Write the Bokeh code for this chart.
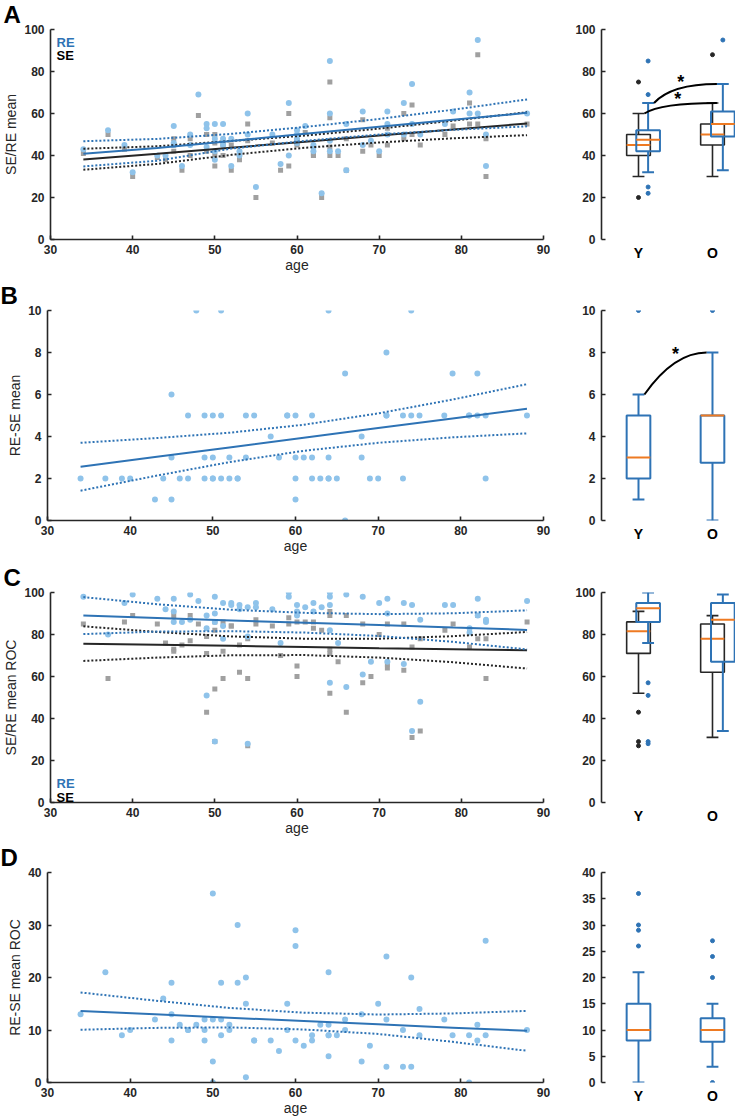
from bokeh.plotting import figure
from bokeh.layouts import column, row
from bokeh.models import Range1d, FixedTicker, Label, Title
from bokeh.embed import file_html
from bokeh.resources import INLINE
from bokeh.core.properties import value

FONT = "Liberation Sans"
DARK = "#262626"
BLUE = "#2E73B5"
LBLUE = "#8FC3EA"
GRAY = "#A0A0A0"
ORANGE = "#EE7A22"

# ---------------- data: panels A/B (SE/RE mean) ----------------
ages_AB = [34, 37, 39, 40, 43, 44, 45, 45, 45, 46, 47, 47, 48, 49, 49, 49, 50, 50, 50, 50,
           51, 51, 51, 52, 52, 53, 53, 54, 54, 55, 57, 58, 59, 59, 60, 60, 60, 60, 61, 62,
           62, 62, 63, 64, 64, 64, 64, 65, 66, 66, 68, 68, 69, 70, 71, 71, 71, 73, 73, 74,
           74, 75, 78, 79, 81, 81, 82, 82, 83, 83, 88]
re_mean = [43, 52, 45, 32, 40, 40, 54, 46, 45, 35, 50, 45, 69, 55, 53, 44, 55, 48, 42, 38,
           55, 48, 45, 48, 35, 42, 40, 60, 50, 25, 50, 36, 65, 40, 52, 50, 48, 46, 54, 45,
           42, 44, 22, 85, 60, 47, 42, 42, 55, 33, 61, 45, 47, 42, 61, 55, 50, 65, 50, 74,
           55, 50, 55, 61, 70, 60, 95, 60, 50, 35, 60]
re_se_mean = [2, 2, 2, 2, 1, 2, 6, 1, 3, 2, 2, 5, 10, 5, 3, 2, 5, 2, 2, 3,
              10, 2, 5, 3, 2, 2, 2, 5, 3, 5, 4, 3, 5, 5, 5, 3, 2, 1, 3, 5,
              2, 3, 2, 10, 2, 3, 2, 2, 7, 0, 4, 3, 2, 2, 8, 5, 5, 5, 2, 10,
              5, 5, 5, 7, 5, 5, 7, 5, 2, 5, 5]
se_mean = [r - d for r, d in zip(re_mean, re_se_mean)]

# ---------------- data: panels C/D (SE/RE mean ROC) ----------------
ages_CD = [34, 37, 39, 40, 43, 44, 45, 45, 45, 46, 47, 47, 48, 49, 49, 49, 50, 50, 50, 50,
           51, 51, 51, 52, 52, 53, 53, 54, 54, 54, 55, 55, 57, 58, 59, 59, 60, 60, 60, 61,
           62, 62, 63, 64, 64, 64, 64, 64, 65, 66, 66, 68, 68, 69, 70, 71, 71, 71, 73, 73,
           74, 74, 75, 75, 78, 79, 81, 81, 82, 82, 83, 83, 88]
re_roc = [98, 80, 95, 99, 97, 92, 97, 91, 86, 86, 99, 87, 96, 89, 83, 51, 98, 90, 86, 29,
          95, 78, 84, 95, 94, 94, 92, 93, 79, 28, 95, 93, 92, 76, 100, 98, 94, 91, 89, 93,
          95, 91, 93, 100, 98, 94, 82, 57, 76, 99, 55, 98, 61, 67, 95, 97, 90, 67, 95, 66,
          94, 34, 87, 48, 94, 94, 83, 81, 97, 89, 87, 86, 96]
re_se_roc = [13, 21, 9, 10, 12, 16, 8, 19, 13, 11, 10, 10, 11, 10, 12, 8, 12, 36, 4, 0,
             9, 19, 12, 11, 10, 19, 30, 15, 20, 1, 8, 8, 8, 6, 15, 10, 8, 26, 29, 7,
             9, 8, 11, 9, 9, 21, 11, 5, 9, 10, 12, 13, 4, 7, 15, 12, 24, 3, 10, 3,
             20, 3, 9, 14, 12, 9, 9, 0, 8, 11, 9, 27, 10]
se_roc = [r - d for r, d in zip(re_roc, re_se_roc)]

fit_ages = [34, 43, 52, 61, 70, 79, 88]
A_re_fit = [40.8, 43.6, 46.9, 50.3, 53.7, 57.0, 60.3]
A_re_hi = [46.8, 47.9, 50.3, 53.6, 57.4, 61.8, 66.7]
A_re_lo = [34.8, 37.5, 43.3, 47.0, 50.0, 52.2, 53.9]
A_se_fit = [38.1, 40.8, 43.7, 46.6, 49.5, 52.4, 55.2]
A_se_hi = [43.2, 44.4, 46.9, 49.5, 52.8, 56.6, 60.6]
A_se_lo = [33.2, 36.0, 40.3, 43.7, 46.2, 48.2, 49.7]
B_fit = [2.56, 3.02, 3.48, 3.94, 4.40, 4.86, 5.32]
B_hi = [3.70, 3.92, 4.18, 4.56, 5.10, 5.76, 6.49]
B_lo = [1.42, 2.12, 2.78, 3.32, 3.70, 3.96, 4.15]
C_re_fit = [89.0, 87.9, 86.7, 85.6, 84.5, 83.3, 82.2]
C_re_hi = [97.8, 94.4, 91.8, 90.3, 89.7, 90.1, 91.5]
C_re_lo = [80.2, 81.4, 81.6, 80.9, 79.3, 76.5, 72.9]
C_se_fit = [75.6, 75.1, 74.6, 74.1, 73.5, 73.0, 72.5]
C_se_hi = [83.9, 81.2, 79.1, 78.0, 78.0, 79.2, 81.2]
C_se_lo = [67.4, 69.0, 70.1, 70.2, 69.0, 66.8, 63.8]
D_fit = [13.6, 13.0, 12.35, 11.7, 11.1, 10.45, 9.84]
D_hi = [17.15, 15.6, 14.2, 13.3, 12.95, 13.15, 13.64]
D_lo = [10.05, 10.4, 10.5, 10.1, 9.25, 7.75, 6.04]

# ---------------- box plot summaries (Y = young, O = old) ----------------
groups = ["Y", "O"]
pos_single = [1.0, 2.0]
pos_blue = [1.13, 2.14]
A_se_box = dict(lo=[30, 30], q1=[40, 45], med=[45, 50], q3=[50, 55], hi=[60, 65])
A_se_out = ([1, 1, 2], [75, 20, 88])
A_re_box = dict(lo=[32, 33], q1=[42, 49], med=[47.5, 55], q3=[52, 61], hi=[65, 74])
A_re_out = ([1, 1, 1, 1, 2], [85, 69, 25, 22, 95])
B_box = dict(lo=[1, 0], q1=[2, 2.75], med=[3, 5], q3=[5, 5], hi=[6, 8])
B_out = ([1, 2], [10, 10])
C_se_box = dict(lo=[52, 31], q1=[71, 62], med=[81.5, 78], q3=[86, 85], hi=[91, 89])
C_se_out = ([1, 1, 1], [43, 29, 27])
C_re_box = dict(lo=[76, 34], q1=[86, 67], med=[92.5, 87], q3=[95, 95], hi=[100, 99])
C_re_out = ([1, 1, 1, 1], [57, 51, 29, 28])
D_box = dict(lo=[0, 3], q1=[8, 7.75], med=[10, 10], q3=[15, 12.25], hi=[21, 15])
D_out = ([1, 1, 1, 1, 2, 2, 2, 2], [26, 29, 30, 36, 0, 20, 24, 27])

# significance brackets: (x0, y0, x1, y1, cx, cy) and star positions
A_brackets = [(1.08, 60, 2.06, 65, 1.30, 65), (1.21, 65, 2.06, 74, 1.45, 74)]
A_stars = [(1.53, 66.7), (1.57, 74.9)]
B_brackets = [(1.08, 6, 1.92, 8, 1.48, 8)]
B_stars = [(1.50, 7.93)]

age_ticks = [30, 40, 50, 60, 70, 80, 90]


def base_fig(width, height, xr, yr, top, bottom, left, right):
    p = figure(width=width, height=height, x_range=Range1d(*xr), y_range=Range1d(*yr),
               output_backend="svg", toolbar_location=None,
               min_border_left=left, min_border_right=right,
               min_border_top=top, min_border_bottom=bottom)
    p.grid.visible = False
    p.outline_line_color = None
    p.background_fill_color = "white"
    p.border_fill_color = "white"
    for ax in (p.xaxis[0], p.yaxis[0]):
        ax.axis_line_color = DARK
        ax.axis_line_width = 1.6
        ax.major_tick_line_color = DARK
        ax.major_tick_line_width = 1.6
        ax.major_tick_in = 4
        ax.major_tick_out = 0
        ax.minor_tick_line_color = None
        ax.major_label_text_font = FONT
        ax.major_label_text_font_style = "bold"
        ax.major_label_text_font_size = "12px"
        ax.major_label_text_color = DARK
        ax.axis_label_text_font = FONT
        ax.axis_label_text_font_style = "normal"
        ax.axis_label_text_font_size = "14px"
        ax.axis_label_text_color = DARK
    return p


def scatter_panel(height, top, bottom, yr, yticks, ylab, letter):
    p = base_fig(560, height, (30, 90), yr, top, bottom, 47, 17)
    p.title = Title(text=letter, align="left", offset=-47, standoff=0,
                    vertical_align="top", text_font=FONT, text_font_style="bold",
                    text_font_size="24px", text_color="black")
    p.xaxis.ticker = FixedTicker(ticks=age_ticks)
    p.yaxis.ticker = FixedTicker(ticks=yticks)
    p.xaxis.axis_label = "age"
    p.yaxis.axis_label = ylab
    p.xaxis.major_label_standoff = 5
    p.xaxis.axis_label_standoff = 0
    p.yaxis.major_label_standoff = 6
    p.yaxis.axis_label_standoff = 2
    return p


def box_panel(height, top, bottom, yr, yticks):
    p = base_fig(175, height, (0.5, 2.311), yr, top, bottom, 41, 0)
    p.yaxis.ticker = FixedTicker(ticks=yticks)
    p.yaxis.major_label_standoff = 6
    p.xaxis.ticker = FixedTicker(ticks=pos_single)
    p.xaxis.major_label_overrides = {1: groups[0], 2: groups[1]}
    p.xaxis.axis_line_color = None
    p.xaxis.major_tick_line_color = None
    p.xaxis.major_label_text_font_size = "14px"
    p.xaxis.major_label_text_color = "black"
    p.xaxis.major_label_standoff = 5
    return p


def rse_labels(p, y, off_re, off_se):
    p.add_layout(Label(x=30, y=y, x_offset=6, y_offset=off_re, text="RE",
                       text_font=FONT, text_font_style="bold", text_font_size="13px",
                       text_color=BLUE, text_baseline="alphabetic"))
    p.add_layout(Label(x=30, y=y, x_offset=6, y_offset=off_se, text="SE",
                       text_font=FONT, text_font_style="bold", text_font_size="13px",
                       text_color="black", text_baseline="alphabetic"))


def fit_lines(p, fit, lo, hi, color):
    p.line(fit_ages, hi, line_color=color, line_width=2, line_dash="2 2")
    p.line(fit_ages, lo, line_color=color, line_width=2, line_dash="2 2")
    p.line(fit_ages, fit, line_color=color, line_width=2)


def draw_boxes(p, pos, b, out, color, lw, bw=0.32, cw=0.16):
    p.segment(x0=pos, y0=b["lo"], x1=pos, y1=b["q1"], line_color=color, line_width=lw)
    p.segment(x0=pos, y0=b["q3"], x1=pos, y1=b["hi"], line_color=color, line_width=lw)
    p.segment(x0=[x - cw / 2 for x in pos] * 2, y0=b["lo"] + b["hi"],
              x1=[x + cw / 2 for x in pos] * 2, y1=b["lo"] + b["hi"],
              line_color=color, line_width=lw)
    p.quad(left=[x - bw / 2 for x in pos], right=[x + bw / 2 for x in pos],
           bottom=b["q1"], top=b["q3"], fill_color=None, line_color=color, line_width=lw)
    p.segment(x0=[x - bw / 2 for x in pos], y0=b["med"], x1=[x + bw / 2 for x in pos],
              y1=b["med"], line_color=ORANGE, line_width=2)
    ox = [pos[int(round(g)) - 1] for g in out[0]]
    p.scatter(ox, out[1], size=4, marker="circle", fill_color=color, line_color=color)


def brackets(p, br, stars):
    for (x0, y0, x1, y1, cx, cy) in br:
        p.quadratic(x0=[x0], y0=[y0], x1=[x1], y1=[y1], cx=[cx], cy=[cy],
                    line_color="black", line_width=2)
    p.text(x=[s[0] for s in stars], y=[s[1] for s in stars], text=["*"] * len(stars),
           text_font=value(FONT), text_font_style="bold", text_font_size="18px",
           text_align="center", text_baseline="alphabetic", text_color="black")


# ---------------- Row A ----------------
sA = scatter_panel(278, 29, 39, (0, 100), [0, 20, 40, 60, 80, 100], "SE/RE mean", "A")
sA.scatter(ages_AB, se_mean, size=5, marker="square", fill_color=GRAY, line_color=None)
sA.scatter(ages_AB, re_mean, size=6, marker="circle", fill_color=LBLUE, line_color=None)
fit_lines(sA, A_se_fit, A_se_lo, A_se_hi, DARK)
fit_lines(sA, A_re_fit, A_re_lo, A_re_hi, BLUE)
rse_labels(sA, 100, -13, -26)

bA = box_panel(278, 22, 39, (0, 100), [0, 20, 40, 60, 80, 100])
draw_boxes(bA, pos_single, A_se_box, A_se_out, DARK, 1.6)
draw_boxes(bA, pos_blue, A_re_box, A_re_out, BLUE, 2)
brackets(bA, A_brackets, A_stars)

# ---------------- Row B ----------------
sB = scatter_panel(280, 32, 37, (0, 10), [0, 2, 4, 6, 8, 10], "RE-SE mean", "B")
sB.scatter(ages_AB, re_se_mean, size=6, marker="circle", fill_color=LBLUE, line_color=None)
fit_lines(sB, B_fit, B_lo, B_hi, BLUE)

bB = box_panel(280, 24, 38, (0, 10), [0, 2, 4, 6, 8, 10])
draw_boxes(bB, pos_single, B_box, B_out, BLUE, 2)
brackets(bB, B_brackets, B_stars)

# ---------------- Row C ----------------
sC = scatter_panel(280, 34, 36, (0, 100), [0, 20, 40, 60, 80, 100], "SE/RE mean ROC", "C")
sC.scatter(ages_CD, se_roc, size=5, marker="square", fill_color=GRAY, line_color=None)
sC.scatter(ages_CD, re_roc, size=6, marker="circle", fill_color=LBLUE, line_color=None)
fit_lines(sC, C_se_fit, C_se_lo, C_se_hi, DARK)
fit_lines(sC, C_re_fit, C_re_lo, C_re_hi, BLUE)
rse_labels(sC, 0, 19, 5)

bC = box_panel(280, 26, 36, (0, 100), [0, 20, 40, 60, 80, 100])
draw_boxes(bC, pos_single, C_se_box, C_se_out, DARK, 1.6)
draw_boxes(bC, pos_blue, C_re_box, C_re_out, BLUE, 2)

# ---------------- Row D ----------------
sD = scatter_panel(281, 34, 37, (0, 40), [0, 10, 20, 30, 40], "RE-SE mean ROC", "D")
sD.scatter(ages_CD, re_se_roc, size=6, marker="circle", fill_color=LBLUE, line_color=None)
fit_lines(sD, D_fit, D_lo, D_hi, BLUE)

bD = box_panel(281, 27, 36, (0, 40), [0, 5, 10, 15, 20, 25, 30, 35, 40])
draw_boxes(bD, pos_single, D_box, D_out, BLUE, 2)

layout = column(row(sA, bA), row(sB, bB), row(sC, bC), row(sD, bD))

open("out.html", "w").write(file_html(layout, INLINE))
